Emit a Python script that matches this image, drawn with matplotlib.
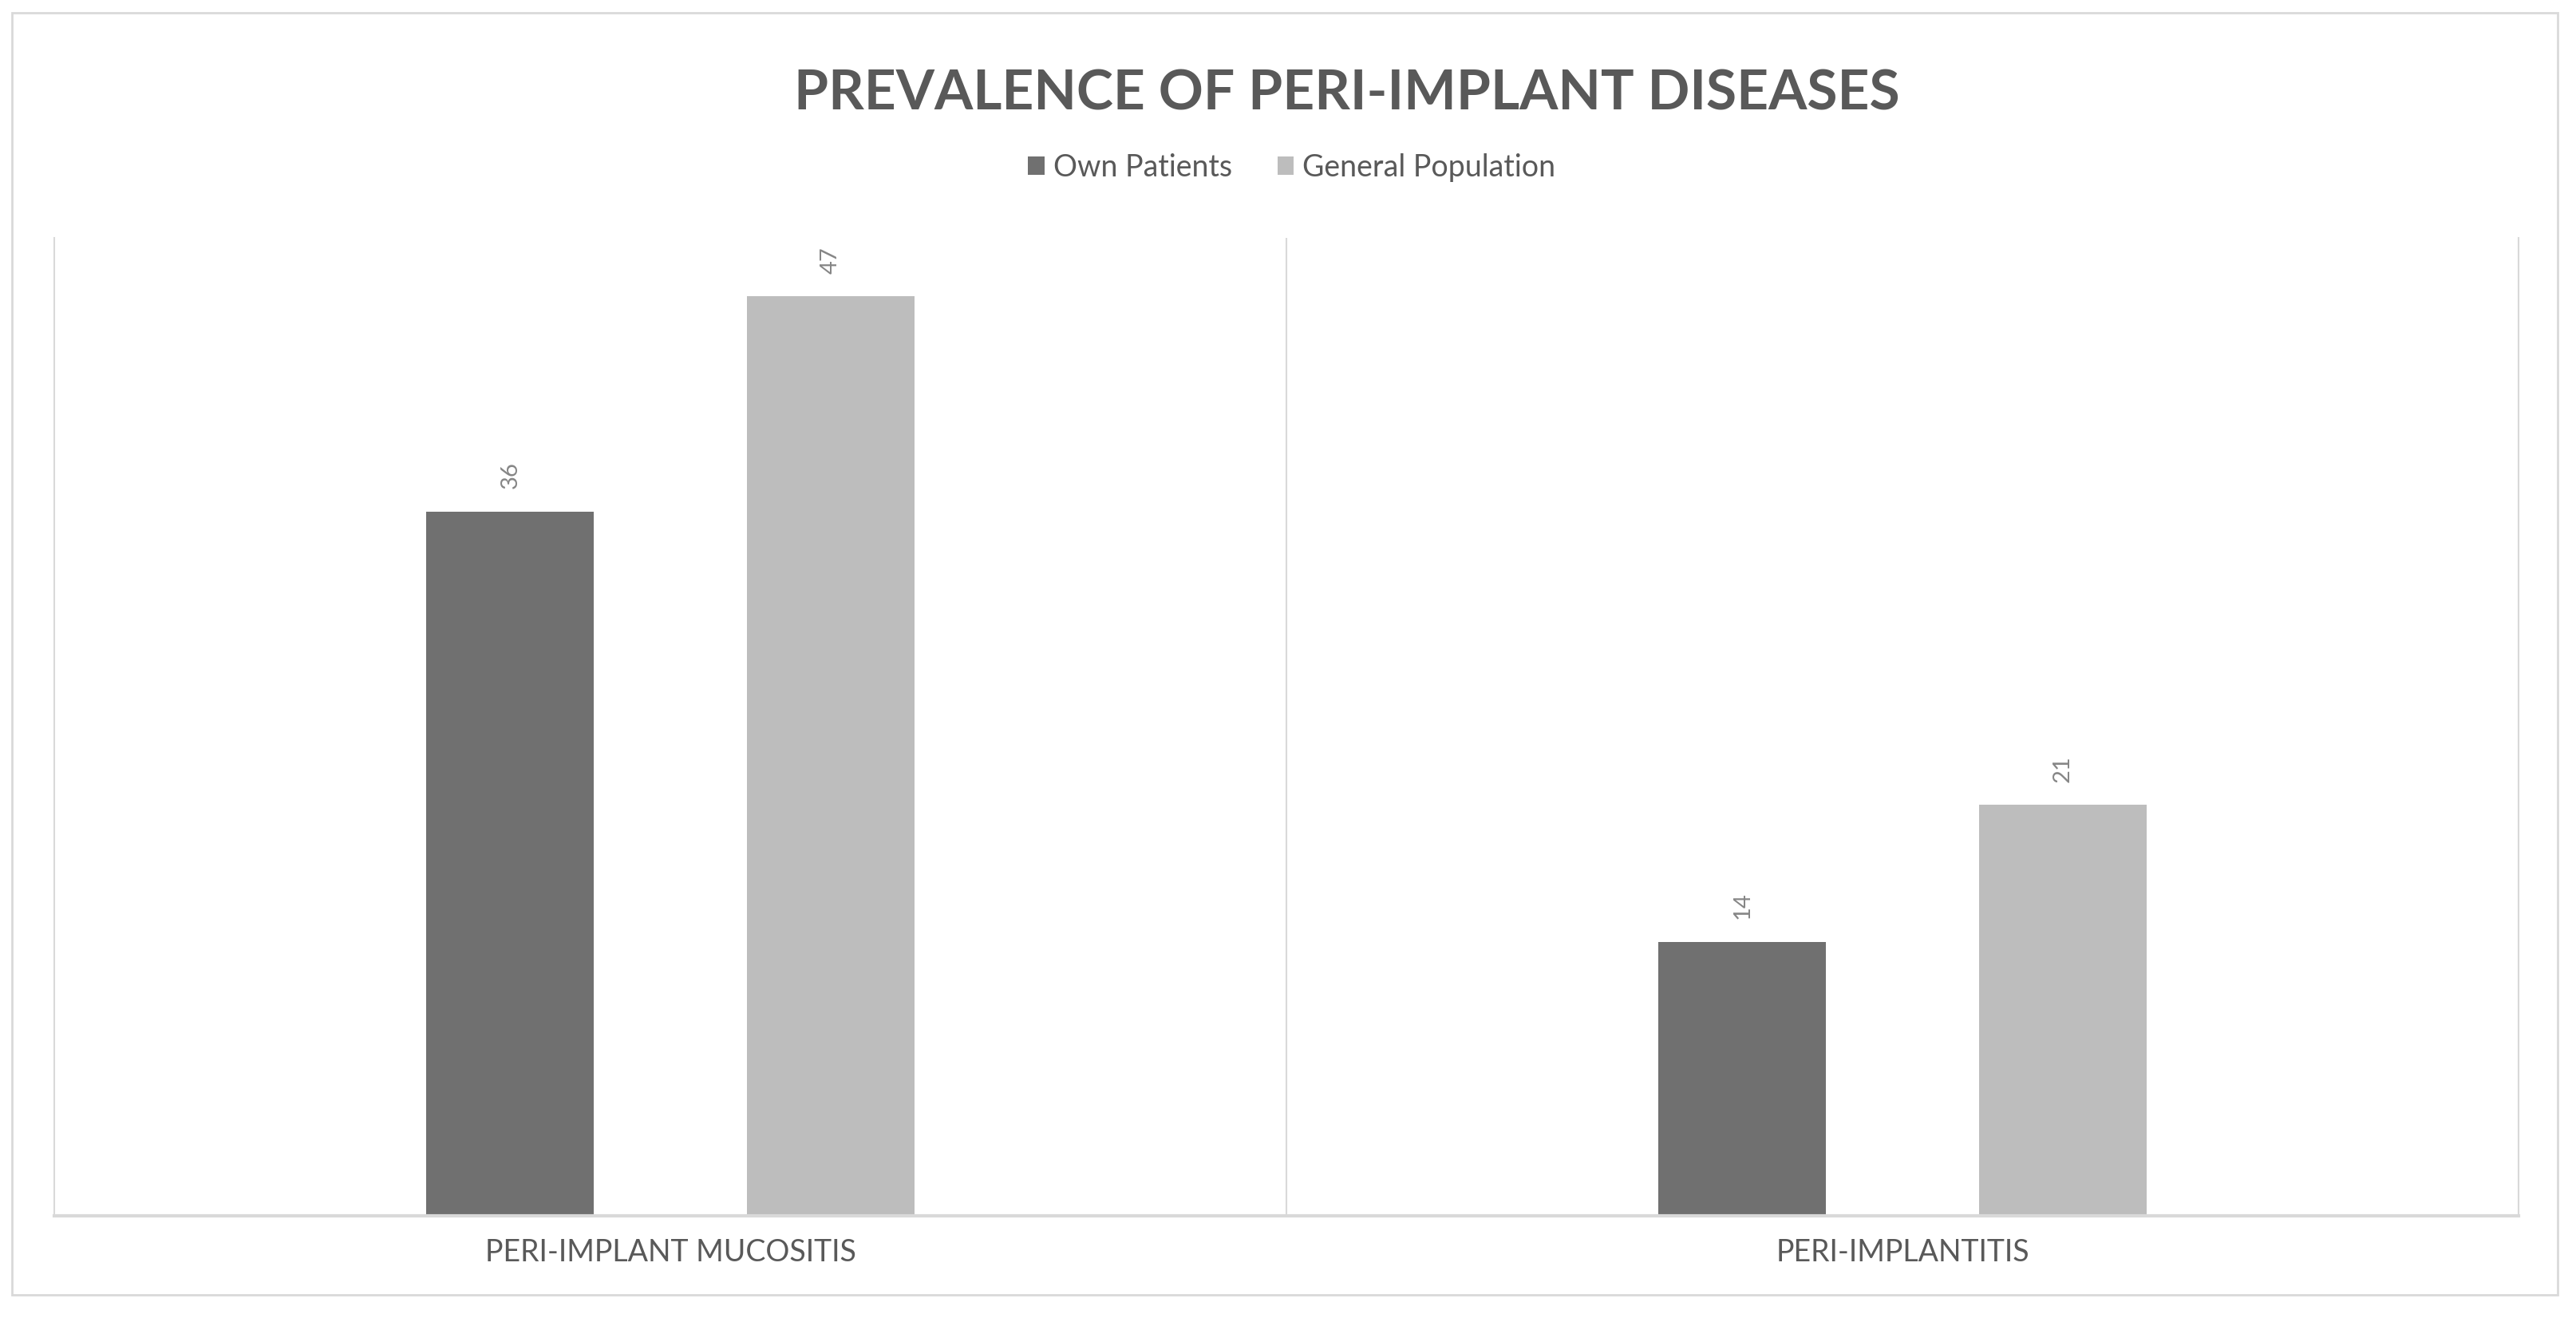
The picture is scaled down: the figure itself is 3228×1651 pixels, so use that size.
import matplotlib
matplotlib.use("Agg")
import matplotlib.pyplot as plt
from matplotlib.patches import Patch, Rectangle
import numpy as np

categories = ["PERI-IMPLANT MUCOSITIS", "PERI-IMPLANTITIS"]
series_names = ["Own Patients", "General Population"]
own_patients = [36, 14]
general_population = [47, 21]
title = "PREVALENCE OF PERI-IMPLANT DISEASES"

colors = ["#707070", "#bdbdbd"]
text_dark = "#595959"
label_color = "#868686"
line_color = "#d9d9d9"

plt.rcParams['font.family'] = ['Lato', 'DejaVu Sans']

W, H = 3228, 1651
fig = plt.figure(figsize=(W / 100, H / 100), dpi=100)
ax = fig.add_axes([68 / W, 1 - 1523 / H, (3156 - 68) / W, (1523 - 298) / H])

x = np.arange(len(categories))
width = 0.136
offset = 0.13
series = [own_patients, general_population]
for i, (vals, name) in enumerate(zip(series, series_names)):
    pos = x + (-offset if i == 0 else offset)
    bars = ax.bar(pos, vals, width=width, color=colors[i], label=name, zorder=2)
    for b, v in zip(bars, vals):
        ax.annotate(str(v), xy=(b.get_x() + b.get_width() / 2, b.get_height()),
                    xytext=(0, 33), textcoords='offset points', ha='center', va='center',
                    rotation=90, fontsize=21, color=label_color)

ax.set_xlim(-0.5, len(categories) - 0.5)
ax.set_ylim(0, 50)
ax.set_yticks([])
ax.set_xticks(x)
ax.set_xticklabels(categories, fontsize=27, color=text_dark)
ax.tick_params(axis='x', length=0, pad=20)
for k in range(1, len(categories)):
    ax.axvline(k - 0.5, color=line_color, lw=1.5, zorder=1)
ax.spines['top'].set_visible(False)
for s in ['left', 'right']:
    ax.spines[s].set_color(line_color)
    ax.spines[s].set_linewidth(1.5)
ax.spines['bottom'].set_color(line_color)
ax.spines['bottom'].set_linewidth(3)

fig.text(1688 / W, 1 - 118 / H, title, ha='center', va='center', fontsize=50,
         fontweight='bold', color=text_dark)

handles = [Patch(facecolor=c, edgecolor='none') for c in colors]
fig.legend(handles, series_names, loc='center', bbox_to_anchor=(1619 / W, 1 - 210 / H),
           ncol=2, frameon=False, fontsize=27, labelcolor=text_dark,
           handlelength=0.55, handleheight=0.55, handletextpad=0.3, columnspacing=1.5)

fig.patches.append(Rectangle((15 / W, 1 - 1622 / H), (3205 - 15) / W, (1622 - 16) / H,
                             transform=fig.transFigure, fill=False, edgecolor=line_color, lw=2))

fig.savefig("out.png", dpi=100, facecolor="white")
